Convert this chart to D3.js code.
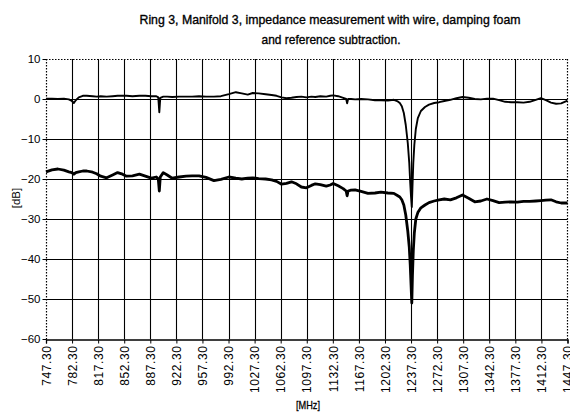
<!DOCTYPE html>
<html>
<head>
<meta charset="utf-8">
<script src="https://cdn.jsdelivr.net/npm/d3@7"></script>
<style>
  html, body { margin: 0; padding: 0; background: #fff; }
  svg { display: block; }
  text { font-family: "Liberation Sans", Arial, sans-serif; fill: #000; }
</style>
</head>
<body>
<svg id="chart" width="570" height="416"></svg>
<script>
// Sweep frequencies (MHz) shared by both traces
const freqMHz = [
  747.3, 755.3, 763.3, 771.3, 778.0, 782.0, 784.7, 787.3, 791.3, 796.7,
  802.0, 810.0, 815.3, 820.7, 828.7, 836.7, 843.4, 850.0, 855.4, 863.4,
  872.7, 880.7, 888.7, 895.4, 898.0, 899.4, 900.7, 904.7, 910.0, 916.7,
  926.1, 935.4, 943.4, 952.7, 962.1, 972.7, 982.1, 992.8, 1002.1, 1010.1,
  1018.1, 1024.8, 1032.8, 1042.1, 1050.1, 1056.8, 1063.5, 1070.1, 1076.8, 1083.5,
  1090.1, 1096.8, 1103.5, 1108.8, 1115.5, 1123.5, 1128.8, 1132.8, 1139.5, 1146.2,
  1150.2, 1151.5, 1152.8, 1156.8, 1162.2, 1170.2, 1179.5, 1188.9, 1196.9, 1206.2,
  1214.2, 1219.5, 1222.2, 1224.9, 1227.6, 1230.2, 1232.9, 1234.9, 1236.2, 1237.3,
  1238.3, 1239.2, 1240.3, 1241.7, 1243.7, 1246.4, 1250.5, 1256.0, 1261.4, 1268.3,
  1275.1, 1281.9, 1290.1, 1298.2, 1306.4, 1314.6, 1322.8, 1331.0, 1339.2, 1347.3,
  1355.5, 1363.7, 1371.9, 1380.1, 1388.3, 1396.5, 1404.7, 1411.5, 1418.3, 1425.1,
  1432.0, 1438.8, 1447.3
];

// Upper trace (dB)
const upperDb = [
  0.1, 0.1, 0.0, 0.1, -0.1, -0.5, -1.0, -0.3, 0.4, 0.8,
  0.8, 0.7, 0.6, 0.7, 0.6, 0.7, 0.8, 0.8, 0.8, 0.7,
  0.8, 0.8, 0.7, 0.7, 0.4, -3.3, 0.3, 0.6, 0.6, 0.5,
  0.6, 0.6, 0.6, 0.7, 0.6, 0.6, 0.7, 1.2, 1.7, 1.4,
  1.1, 1.5, 1.4, 1.2, 1.0, 0.8, 0.4, 0.2, 0.3, 0.5,
  0.6, 0.4, 0.6, 0.5, 0.7, 0.6, 0.8, 0.9, 0.7, 0.3,
  0.0, -1.1, 0.0, 0.0, -0.1, 0.0, -0.1, -0.3, -0.3, -0.4,
  -0.2, -0.6, -1.0, -1.8, -3.5, -6.5, -11, -16, -21, -24.5,
  -27, -22, -16, -11.5, -7.5, -4.8, -3.0, -2.0, -1.4, -1.0,
  -0.8, -0.5, -0.2, 0.2, 0.5, 0.3, 0.0, -0.1, 0.1, 0.1,
  -0.3, -0.7, -0.8, -0.8, -0.9, -0.7, -0.2, 0.2, -0.3, -0.9,
  -1.2, -1.1, -0.4
];

// Lower trace (dB)
const lowerDb = [
  -18.2, -17.7, -17.5, -17.8, -18.2, -18.4, -18.8, -18.4, -18.2, -18.0,
  -18.0, -18.3, -18.7, -19.3, -19.7, -19.0, -18.4, -18.8, -19.3, -19.2,
  -18.8, -19.3, -19.8, -19.5, -20.0, -23.0, -19.5, -18.4, -19.0, -19.8,
  -19.5, -19.3, -19.2, -19.2, -19.6, -20.4, -20.1, -19.5, -19.8, -20.0,
  -19.8, -19.7, -19.9, -20.0, -20.2, -20.6, -21.3, -21.1, -20.7, -21.2,
  -22.0, -22.2, -21.6, -21.2, -21.4, -21.8, -21.5, -21.1, -21.7, -22.4,
  -23.0, -24.2, -23.0, -22.8, -22.7, -23.1, -23.6, -23.5, -23.3, -23.5,
  -23.6, -24.2, -24.5, -25.2, -26.5, -29, -33, -37, -41.5, -46.5,
  -51, -44, -38, -33.5, -30, -28.4, -27.2, -26.5, -25.9, -25.5,
  -25.2, -25.0, -25.2, -24.7, -24.0, -24.8, -25.7, -25.5, -25.0, -25.4,
  -25.9, -25.8, -25.7, -25.8, -25.6, -25.6, -25.5, -25.4, -25.3, -25.2,
  -25.7, -26.0, -26.0
];

// Category tick labels along the frequency axis
const xTickLabels = [
  "747.30", "782.30", "817.30", "852.30", "887.30", "922.30", "957.30",
  "992.30", "1027.30", "1062.30", "1097.30", "1132.30", "1167.30", "1202.30",
  "1237.30", "1272.30", "1307.30", "1342.30", "1377.30", "1412.30", "1447.30"
];

const yTickValues = [10, 0, -10, -20, -30, -40, -50, -60];

const titleLines = [
  "Ring 3, Manifold 3, impedance measurement with wire, damping foam",
  "and reference subtraction."
];

const svg = d3.select("#chart");
const plot = { left: 46, right: 567.5, top: 59, bottom: 339 };

const x = d3.scaleLinear().domain([747.3, 1447.3]).range([plot.left, plot.right]);
const y = d3.scaleLinear().domain([-60, 10]).range([plot.bottom, plot.top]);

// Title, set tight and dark
const titleText = svg.append("g")
  .attr("stroke", "#000").attr("stroke-width", 0.35);
titleText.append("text")
  .attr("x", 330).attr("y", 24)
  .attr("text-anchor", "middle")
  .attr("font-size", 13.5)
  .attr("textLength", 381).attr("lengthAdjust", "spacingAndGlyphs")
  .text(titleLines[0]);
titleText.append("text")
  .attr("x", 331).attr("y", 44)
  .attr("text-anchor", "middle")
  .attr("font-size", 13.5)
  .attr("textLength", 139).attr("lengthAdjust", "spacingAndGlyphs")
  .text(titleLines[1]);

// Horizontal gridlines
svg.append("g")
  .selectAll("line")
  .data(yTickValues.filter(v => v !== 10 && v !== -60))
  .join("line")
  .attr("x1", plot.left).attr("x2", plot.right)
  .attr("y1", d => Math.round(y(d)) + 0.5).attr("y2", d => Math.round(y(d)) + 0.5)
  .attr("stroke", "#000").attr("stroke-width", 1.1);

// Vertical gridlines at each labelled frequency
const xTickValues = xTickLabels.map(Number);
svg.append("g")
  .selectAll("line")
  .data(xTickValues.slice(1, -1))
  .join("line")
  .attr("x1", d => Math.round(x(d)) + 0.5).attr("x2", d => Math.round(x(d)) + 0.5)
  .attr("y1", plot.top).attr("y2", plot.bottom)
  .attr("stroke", "#000").attr("stroke-width", 1.1);

// Dotted frame on top, left and right
const frame = svg.append("g")
  .attr("stroke", "#000").attr("stroke-width", 1.2)
  .attr("stroke-dasharray", "1.5,1.5").attr("fill", "none");
frame.append("line").attr("x1", plot.left).attr("x2", plot.right)
  .attr("y1", plot.top + 0.5).attr("y2", plot.top + 0.5);
frame.append("line").attr("x1", plot.left + 0.5).attr("x2", plot.left + 0.5)
  .attr("y1", plot.top).attr("y2", plot.bottom);
frame.append("line").attr("x1", plot.right).attr("x2", plot.right)
  .attr("y1", plot.top).attr("y2", plot.bottom);

// Y axis
const yAxis = svg.append("g")
  .attr("transform", `translate(${plot.left + 0.5},0)`)
  .call(d3.axisLeft(y).tickValues(yTickValues).tickSize(4).tickPadding(2).tickFormat(d3.format("d")));
yAxis.select(".domain").remove();
yAxis.selectAll("text").attr("font-size", 11.5).attr("font-family", "Liberation Sans, Arial, sans-serif");

// X axis with rotated labels
const xAxis = svg.append("g")
  .attr("transform", `translate(0,${plot.bottom + 0.5})`)
  .call(d3.axisBottom(x).tickValues(xTickValues).tickSize(4)
    .tickFormat((d, i) => xTickLabels[i]));
xAxis.select(".domain").attr("stroke-width", 1.3);
xAxis.selectAll("text")
  .attr("font-size", 12)
  .attr("font-family", "Liberation Sans, Arial, sans-serif")
  .attr("letter-spacing", 0.6)
  .attr("transform", "rotate(-90)")
  .attr("text-anchor", "end")
  .attr("x", -6).attr("y", 0).attr("dy", "0.35em");

// Axis titles
svg.append("text")
  .attr("x", 308).attr("y", 409)
  .attr("text-anchor", "middle").attr("font-size", 11.5)
  .attr("stroke", "#000").attr("stroke-width", 0.3)
  .attr("textLength", 24).attr("lengthAdjust", "spacingAndGlyphs")
  .text("[MHz]");
svg.append("text")
  .attr("transform", "translate(20,198) rotate(-90)")
  .attr("text-anchor", "middle").attr("font-size", 11.5)
  .text("[dB]");

// Traces
const line = d3.line().x(d => x(d[0])).y(d => y(d[1]));
svg.append("path")
  .datum(freqMHz.map((f, i) => [f, lowerDb[i]]))
  .attr("fill", "none").attr("stroke", "#000")
  .attr("stroke-width", 2.8).attr("stroke-linejoin", "round")
  .attr("d", line);
svg.append("path")
  .datum(freqMHz.map((f, i) => [f, upperDb[i]]))
  .attr("fill", "none").attr("stroke", "#000")
  .attr("stroke-width", 1.9).attr("stroke-linejoin", "round")
  .attr("d", line);
</script>
</body>
</html>
